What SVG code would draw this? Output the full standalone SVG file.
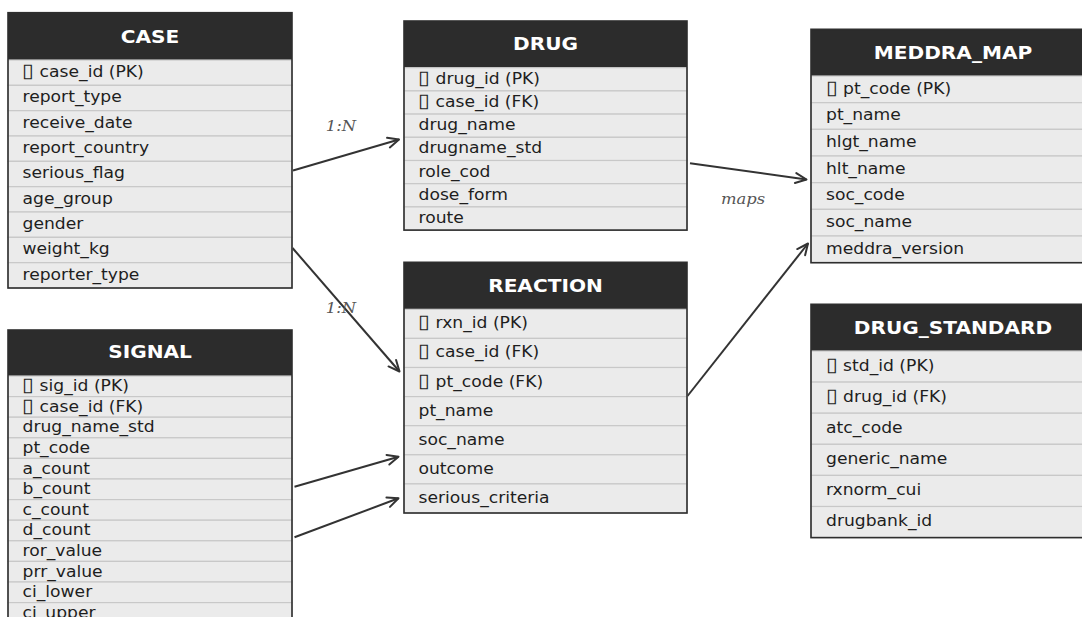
<svg xmlns="http://www.w3.org/2000/svg" width="1082" height="617" viewBox="0 0 1082 617">
<style>
.bg{fill:#ffffff}
.hdr{fill:#2c2c2c}
.row{fill:#ebebeb;stroke:#c8c8c8;stroke-width:1.2}
.frame{fill:none;stroke:#2e2e2e;stroke-width:1.6}
.ht{font-family:"DejaVu Sans",sans-serif;font-weight:bold;font-size:17.8px;fill:#ffffff;text-anchor:middle;transform-box:fill-box;transform-origin:50% 50%;transform:scaleX(1.13)}
.rt{font-family:"DejaVu Sans",sans-serif;font-size:15.2px;fill:#1e1e1e;transform-box:fill-box;transform-origin:0 50%;transform:scaleX(1.13)}
.k{font-size:19px;font-weight:100}
.lbl{font-family:"DejaVu Serif",serif;font-style:italic;font-size:14.5px;fill:#555555;text-anchor:middle;transform-box:fill-box;transform-origin:50% 50%;transform:scaleX(1.13)}
.edge{fill:none;stroke:#333333;stroke-width:2;marker-end:url(#arr)}
</style>
<defs>
<marker id="arr" viewBox="-13 -7 15 14" refX="0" refY="0" markerWidth="15" markerHeight="14" markerUnits="userSpaceOnUse" orient="auto">
<path d="M-11,-5 L0,0 L-11,5" fill="none" stroke="#333333" stroke-width="2" stroke-linecap="round" stroke-linejoin="round"/>
</marker>
</defs>
<rect class="bg" x="0" y="0" width="1082" height="617"/>

<g id="connectors">
<line class="edge" x1="293" y1="170.5" x2="399" y2="139.5"/>
<line class="edge" x1="292.5" y1="248" x2="399.5" y2="371.5"/>
<line class="edge" x1="294.5" y1="486.7" x2="398.5" y2="456.7"/>
<line class="edge" x1="294.5" y1="537.3" x2="398.5" y2="498.3"/>
<line class="edge" x1="690" y1="163.3" x2="806.5" y2="179.5"/>
<line class="edge" x1="687.5" y1="396" x2="808" y2="243.5"/>
<text class="lbl" x="341" y="131.5">1:N</text>
<text class="lbl" x="341" y="313">1:N</text>
<text class="lbl" x="743" y="204.3">maps</text>
</g>

<g id="case">
<rect class="hdr" x="8" y="12.7" width="284" height="47.3"/>
<text class="ht" x="150" y="42.6">CASE</text>
<rect class="row" x="8" y="60" width="284" height="25.33"/>
<rect class="row" x="8" y="85.33" width="284" height="25.33"/>
<rect class="row" x="8" y="110.67" width="284" height="25.33"/>
<rect class="row" x="8" y="136" width="284" height="25.33"/>
<rect class="row" x="8" y="161.33" width="284" height="25.33"/>
<rect class="row" x="8" y="186.67" width="284" height="25.33"/>
<rect class="row" x="8" y="212" width="284" height="25.33"/>
<rect class="row" x="8" y="237.33" width="284" height="25.33"/>
<rect class="row" x="8" y="262.67" width="284" height="25.33"/>
<rect class="frame" x="8" y="12.7" width="284" height="275.3"/>
<text class="rt" x="22.5" y="77.2"><tspan class="k">▯</tspan> case_id (PK)</text>
<text class="rt" x="22.5" y="102.5">report_type</text>
<text class="rt" x="22.5" y="127.8">receive_date</text>
<text class="rt" x="22.5" y="153.2">report_country</text>
<text class="rt" x="22.5" y="178.5">serious_flag</text>
<text class="rt" x="22.5" y="203.8">age_group</text>
<text class="rt" x="22.5" y="229.2">gender</text>
<text class="rt" x="22.5" y="254.5">weight_kg</text>
<text class="rt" x="22.5" y="279.8">reporter_type</text>
</g>

<g id="signal">
<rect class="hdr" x="8" y="330" width="284" height="46"/>
<text class="ht" x="150" y="358.5">SIGNAL</text>
<rect class="row" x="8" y="376" width="284" height="20.6"/>
<rect class="row" x="8" y="396.6" width="284" height="20.6"/>
<rect class="row" x="8" y="417.2" width="284" height="20.6"/>
<rect class="row" x="8" y="437.8" width="284" height="20.6"/>
<rect class="row" x="8" y="458.4" width="284" height="20.6"/>
<rect class="row" x="8" y="479" width="284" height="20.6"/>
<rect class="row" x="8" y="499.6" width="284" height="20.6"/>
<rect class="row" x="8" y="520.2" width="284" height="20.6"/>
<rect class="row" x="8" y="540.8" width="284" height="20.6"/>
<rect class="row" x="8" y="561.4" width="284" height="20.6"/>
<rect class="row" x="8" y="582" width="284" height="20.6"/>
<rect class="row" x="8" y="602.6" width="284" height="20.6"/>
<rect class="frame" x="8" y="330" width="284" height="293.2"/>
<text class="rt" x="22.5" y="391.2"><tspan class="k">▯</tspan> sig_id (PK)</text>
<text class="rt" x="22.5" y="411.8"><tspan class="k">▯</tspan> case_id (FK)</text>
<text class="rt" x="22.5" y="432.4">drug_name_std</text>
<text class="rt" x="22.5" y="453">pt_code</text>
<text class="rt" x="22.5" y="473.6">a_count</text>
<text class="rt" x="22.5" y="494.2">b_count</text>
<text class="rt" x="22.5" y="514.8">c_count</text>
<text class="rt" x="22.5" y="535.4">d_count</text>
<text class="rt" x="22.5" y="556">ror_value</text>
<text class="rt" x="22.5" y="576.6">prr_value</text>
<text class="rt" x="22.5" y="597.2">ci_lower</text>
<text class="rt" x="22.5" y="617.8">ci_upper</text>
</g>

<g id="drug">
<rect class="hdr" x="404" y="21" width="283" height="46.7"/>
<text class="ht" x="545.5" y="50.5">DRUG</text>
<rect class="row" x="404" y="67.7" width="283" height="23.2"/>
<rect class="row" x="404" y="90.9" width="283" height="23.2"/>
<rect class="row" x="404" y="114.1" width="283" height="23.2"/>
<rect class="row" x="404" y="137.3" width="283" height="23.2"/>
<rect class="row" x="404" y="160.5" width="283" height="23.2"/>
<rect class="row" x="404" y="183.7" width="283" height="23.2"/>
<rect class="row" x="404" y="206.9" width="283" height="23.2"/>
<rect class="frame" x="404" y="21" width="283" height="209.1"/>
<text class="rt" x="418.5" y="83.8"><tspan class="k">▯</tspan> drug_id (PK)</text>
<text class="rt" x="418.5" y="107"><tspan class="k">▯</tspan> case_id (FK)</text>
<text class="rt" x="418.5" y="130.2">drug_name</text>
<text class="rt" x="418.5" y="153.4">drugname_std</text>
<text class="rt" x="418.5" y="176.6">role_cod</text>
<text class="rt" x="418.5" y="199.8">dose_form</text>
<text class="rt" x="418.5" y="223">route</text>
</g>

<g id="reaction">
<rect class="hdr" x="404" y="262.3" width="283" height="47"/>
<text class="ht" x="545.5" y="291.8">REACTION</text>
<rect class="row" x="404" y="309.3" width="283" height="29.1"/>
<rect class="row" x="404" y="338.4" width="283" height="29.1"/>
<rect class="row" x="404" y="367.5" width="283" height="29.1"/>
<rect class="row" x="404" y="396.6" width="283" height="29.1"/>
<rect class="row" x="404" y="425.7" width="283" height="29.1"/>
<rect class="row" x="404" y="454.8" width="283" height="29.1"/>
<rect class="row" x="404" y="483.9" width="283" height="29.1"/>
<rect class="frame" x="404" y="262.3" width="283" height="250.7"/>
<text class="rt" x="418.5" y="328.4"><tspan class="k">▯</tspan> rxn_id (PK)</text>
<text class="rt" x="418.5" y="357.5"><tspan class="k">▯</tspan> case_id (FK)</text>
<text class="rt" x="418.5" y="386.6"><tspan class="k">▯</tspan> pt_code (FK)</text>
<text class="rt" x="418.5" y="415.7">pt_name</text>
<text class="rt" x="418.5" y="444.8">soc_name</text>
<text class="rt" x="418.5" y="473.9">outcome</text>
<text class="rt" x="418.5" y="503">serious_criteria</text>
</g>

<g id="meddra_map">
<rect class="hdr" x="811" y="29.3" width="284" height="46.7"/>
<text class="ht" x="953" y="58.8">MEDDRA_MAP</text>
<rect class="row" x="811" y="76" width="284" height="26.67"/>
<rect class="row" x="811" y="102.67" width="284" height="26.67"/>
<rect class="row" x="811" y="129.33" width="284" height="26.67"/>
<rect class="row" x="811" y="156" width="284" height="26.67"/>
<rect class="row" x="811" y="182.67" width="284" height="26.67"/>
<rect class="row" x="811" y="209.33" width="284" height="26.67"/>
<rect class="row" x="811" y="236" width="284" height="26.67"/>
<rect class="frame" x="811" y="29.3" width="284" height="233.4"/>
<text class="rt" x="826" y="93.8"><tspan class="k">▯</tspan> pt_code (PK)</text>
<text class="rt" x="826" y="120.5">pt_name</text>
<text class="rt" x="826" y="147.2">hlgt_name</text>
<text class="rt" x="826" y="173.8">hlt_name</text>
<text class="rt" x="826" y="200.5">soc_code</text>
<text class="rt" x="826" y="227.2">soc_name</text>
<text class="rt" x="826" y="253.8">meddra_version</text>
</g>

<g id="drug_standard">
<rect class="hdr" x="811" y="304.3" width="284" height="46.7"/>
<text class="ht" x="953" y="333.8">DRUG_STANDARD</text>
<rect class="row" x="811" y="351" width="284" height="31.1"/>
<rect class="row" x="811" y="382.1" width="284" height="31.1"/>
<rect class="row" x="811" y="413.2" width="284" height="31.1"/>
<rect class="row" x="811" y="444.3" width="284" height="31.1"/>
<rect class="row" x="811" y="475.4" width="284" height="31.1"/>
<rect class="row" x="811" y="506.5" width="284" height="31.1"/>
<rect class="frame" x="811" y="304.3" width="284" height="233.3"/>
<text class="rt" x="826" y="371"><tspan class="k">▯</tspan> std_id (PK)</text>
<text class="rt" x="826" y="402.1"><tspan class="k">▯</tspan> drug_id (FK)</text>
<text class="rt" x="826" y="433.2">atc_code</text>
<text class="rt" x="826" y="464.3">generic_name</text>
<text class="rt" x="826" y="495.4">rxnorm_cui</text>
<text class="rt" x="826" y="526.5">drugbank_id</text>
</g>
</svg>
